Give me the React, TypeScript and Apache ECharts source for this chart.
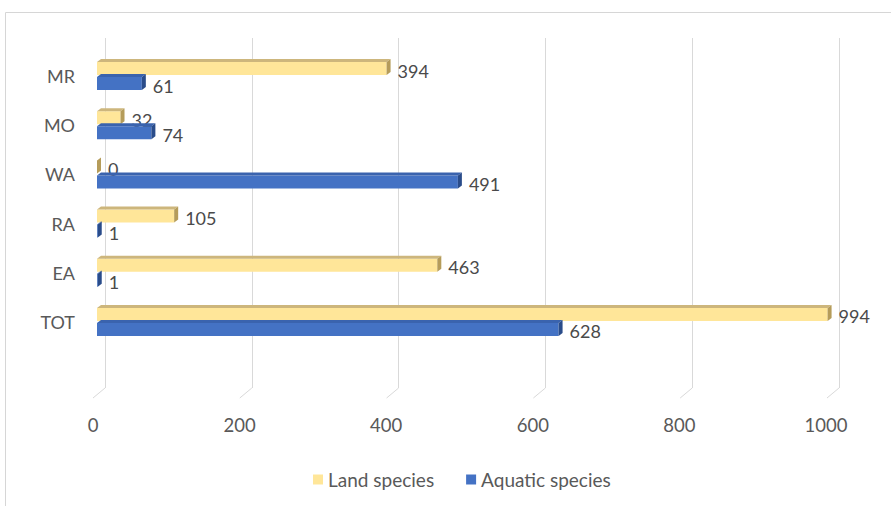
import React, { useEffect, useRef } from "react";
import * as echarts from "echarts";

const categories = ["MR", "MO", "WA", "RA", "EA", "TOT"];
const landSpecies = [394, 32, 0, 105, 463, 994];
const aquaticSpecies = [61, 74, 491, 1, 1, 628];
const valueTicks = [0, 200, 400, 600, 800, 1000];

const FONT = "Lato, 'Open Sans', sans-serif";
const TEXT = "#595959";
const GRID_LINE = "#d9d9d9";

// depth of the extruded bars
const DX = 4;
const DY = 3;

type Palette = { front: string; top: string; side: string };

const landColors: Palette = { front: "#FFE699", top: "#CDB67C", side: "#B59C5A" };
const aquaColors: Palette = { front: "#4472C4", top: "#3A63AE", side: "#2A4C8A" };

function barRenderer(offTop: number, offBot: number, pal: Palette) {
  return (params: any, api: any) => {
    const idx = api.value(1);
    const val = api.value(0);
    const [x0, yc] = api.coord([0, idx]);
    const [x1] = api.coord([val, idx]);
    const top = yc + offTop;
    const bot = yc + offBot;
    const mid = (top + bot) / 2;
    return {
      type: "group",
      children: [
        {
          type: "rect",
          shape: { x: x0, y: top, width: Math.max(x1 - x0, 0), height: bot - top },
          style: { fill: pal.front },
        },
        {
          type: "polygon",
          shape: { points: [[x0, top], [x0 + DX, top - DY], [x1 + DX, top - DY], [x1, top]] },
          style: { fill: pal.top },
        },
        {
          type: "polygon",
          shape: { points: [[x1, top], [x1 + DX, top - DY], [x1 + DX, bot - DY], [x1, bot]] },
          style: { fill: pal.side },
        },
        {
          type: "text",
          style: {
            x: x1 + DX + 7,
            y: mid + 2,
            text: String(val),
            fill: "#4a4a4a",
            font: `18px ${FONT}`,
            verticalAlign: "middle",
            align: "left",
          },
        },
      ],
    };
  };
}

export default function App() {
  const ref = useRef<HTMLDivElement>(null);

  useEffect(() => {
    if (!ref.current) return;
    const chart = echarts.init(ref.current, undefined, { renderer: "svg" });

    const option: any = {
      animation: false,
      backgroundColor: "#ffffff",
      textStyle: { fontFamily: FONT },
      graphic: [
        {
          type: "rect",
          shape: { x: 5.5, y: 12.5, width: 1000, height: 1000 },
          style: { fill: "none", stroke: "#d6d6d6", lineWidth: 1 },
          silent: true,
        },
      ],
      legend: {
        left: 308,
        top: 465,
        itemWidth: 10,
        itemHeight: 10,
        itemGap: 32,
        icon: "rect",
        textStyle: { color: TEXT, fontSize: 19, fontFamily: FONT },
        data: ["Land species", "Aquatic species"],
      },
      grid: [
        // bars
        { left: 97, width: 735, top: 51.5, height: 295 },
        // back wall with the vertical gridlines
        { left: 105, width: 734, top: 38, height: 350 },
        // front edge of the floor, carries the value labels
        { left: 93, width: 733, top: 48, height: 350 },
      ],
      xAxis: [
        {
          gridIndex: 0,
          type: "value",
          min: 0,
          max: 1000,
          interval: 200,
          axisLabel: { show: false },
          axisLine: { show: false },
          axisTick: { show: false },
          splitLine: { show: false },
        },
        {
          gridIndex: 1,
          type: "value",
          min: 0,
          max: 1000,
          interval: 200,
          axisLabel: { show: false },
          axisLine: { show: false },
          axisTick: { show: false },
          splitLine: { show: true, lineStyle: { color: GRID_LINE, width: 1 } },
        },
        {
          gridIndex: 2,
          type: "value",
          min: 0,
          max: 1000,
          interval: 200,
          axisLabel: {
            show: true,
            color: TEXT,
            fontSize: 18.5,
            fontFamily: FONT,
            margin: 17,
            formatter: (v: number) => (valueTicks.includes(v) ? String(v) : ""),
          },
          axisLine: { show: false },
          axisTick: { show: false },
          splitLine: { show: false },
        },
      ],
      yAxis: [
        {
          gridIndex: 0,
          type: "category",
          inverse: true,
          data: categories,
          axisLine: { show: false },
          axisTick: { show: false },
          axisLabel: {
            color: TEXT,
            fontSize: 18,
            fontFamily: FONT,
            margin: 22,
            padding: [11, 0, 0, 0],
          },
        },
        { gridIndex: 1, type: "value", min: 0, max: 1, show: false },
        { gridIndex: 2, type: "value", min: 0, max: 1, show: false },
      ],
      series: [
        {
          // slanted floor segments joining the gridlines to the front edge
          type: "custom",
          xAxisIndex: 1,
          yAxisIndex: 1,
          silent: true,
          z: 1,
          data: valueTicks.map((v) => [v, 0]),
          renderItem: (params: any, api: any) => {
            const [x, y] = api.coord([api.value(0), 0]);
            return {
              type: "line",
              shape: { x1: x, y1: y, x2: x - 12, y2: y + 10 },
              style: { stroke: GRID_LINE, lineWidth: 1 },
            };
          },
        },
        {
          name: "Land species",
          type: "custom",
          xAxisIndex: 0,
          yAxisIndex: 0,
          z: 3,
          itemStyle: { color: landColors.front },
          encode: { x: 0, y: 1 },
          data: categories.map((c, i) => [landSpecies[i], i]),
          renderItem: barRenderer(-14, -1, landColors),
        },
        {
          name: "Aquatic species",
          type: "custom",
          xAxisIndex: 0,
          yAxisIndex: 0,
          z: 4,
          itemStyle: { color: aquaColors.front },
          encode: { x: 0, y: 1 },
          data: categories.map((c, i) => [aquaticSpecies[i], i]),
          renderItem: barRenderer(1, 14, aquaColors),
        },
      ],
    };

    chart.setOption(option);
    return () => chart.dispose();
  }, []);

  return (
    <div
      ref={ref}
      style={{ position: "absolute", left: 0, top: 0, width: 891, height: 506 }}
    />
  );
}
